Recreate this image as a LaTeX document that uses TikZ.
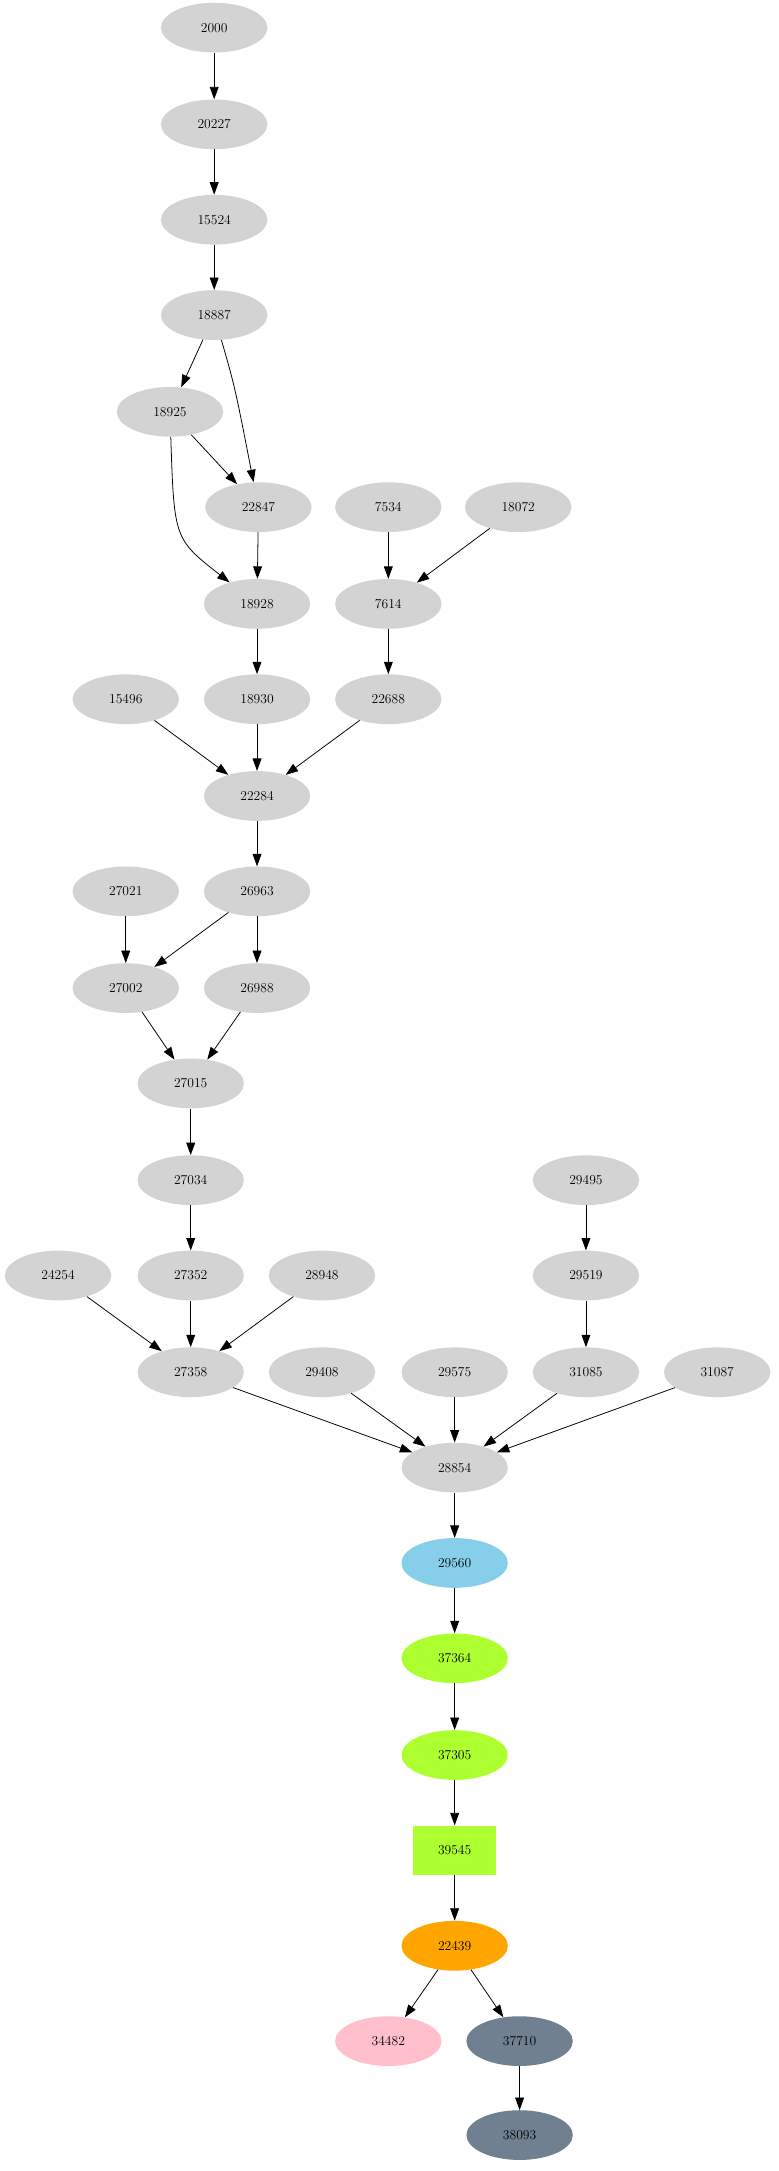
\documentclass[tikz,border=0pt]{standalone}
\usepackage{tikz}
\usetikzlibrary{shapes.geometric,arrows.meta}
\definecolor{gvgray}{HTML}{D3D3D3}
\definecolor{gvsky}{HTML}{87CEEB}
\definecolor{gvgreen}{HTML}{ADFF2F}
\definecolor{gvorange}{HTML}{FFA500}
\definecolor{gvpink}{HTML}{FFC0CB}
\definecolor{gvslate}{HTML}{708090}
\begin{document}
\begin{tikzpicture}[
    x=0.05cm, y=-0.05cm,
    nd/.style={
        ellipse, fill=gvgray,
        minimum width=3.85cm,
        minimum height=1.8cm,
        inner sep=0pt,
        font=\fontsize{14}{16}\selectfont
    },
    sq/.style={
        rectangle, fill=gvgreen,
        minimum width=3cm, minimum height=1.8cm,
        font=\fontsize{14}{16}\selectfont
    },
    arrow/.style={-{Triangle[length=0.45cm,width=0.32cm]}, thick}
]
\useasboundingbox (0,0) rectangle (563,1571);

% --- gray nodes ---
\foreach \name/\x/\y in {2000/155/20, 20227/155/90, 15524/155/159, 18887/155/228,
    18925/123/298, 22847/187/367, 7534/281/367, 18072/375/367, 18928/186/437,
    7614/281/437, 15496/91/506, 18930/186/506, 22688/281/506, 22284/186/576,
    27021/91/645, 26963/186/645, 27002/91/715, 26988/186/715, 27015/138/784,
    27034/138/854, 29495/424/854, 24254/42/923, 27352/138/923, 28948/233/923,
    29519/424/923, 27358/138/993, 29408/233/993, 29575/329/993, 31085/424/993,
    31087/519/993, 28854/329/1062}
    \node[nd] (n\name) at (\x,\y) {\name};

% --- coloured nodes ---
\node[nd, fill=gvsky] (n29560) at (329,1131) {29560};
\node[nd, fill=gvgreen] (n37364) at (329,1200) {37364};
\node[nd, fill=gvgreen] (n37305) at (329,1270) {37305};
\node[sq] (n39545) at (329,1339) {39545};
\node[nd, fill=gvorange] (n22439) at (329,1408) {22439};
\node[nd, fill=gvpink] (n34482) at (281,1477) {34482};
\node[nd, fill=gvslate] (n37710) at (376,1477) {37710};
\node[nd, fill=gvslate] (n38093) at (376,1545) {38093};

% --- edges ---
\foreach \a/\b in {2000/20227, 20227/15524, 15524/18887, 18887/18925,
    18925/22847, 22847/18928, 7534/7614, 18072/7614, 18928/18930,
    7614/22688, 15496/22284, 18930/22284, 22688/22284, 22284/26963,
    27021/27002, 26963/27002, 26963/26988, 27002/27015, 26988/27015,
    27015/27034, 27034/27352, 29495/29519, 24254/27358, 27352/27358,
    28948/27358, 29519/31085, 27358/28854, 29408/28854, 29575/28854,
    31085/28854, 31087/28854, 28854/29560, 29560/37364, 37364/37305,
    37305/39545, 39545/22439, 22439/34482, 22439/37710, 37710/38093}
    \draw[arrow] (n\a) -- (n\b);
\draw[arrow] (n18887) .. controls (170,280) .. (n22847);
\draw[arrow] (n18925) .. controls (126,390) .. (n18928);

\end{tikzpicture}
\end{document}
